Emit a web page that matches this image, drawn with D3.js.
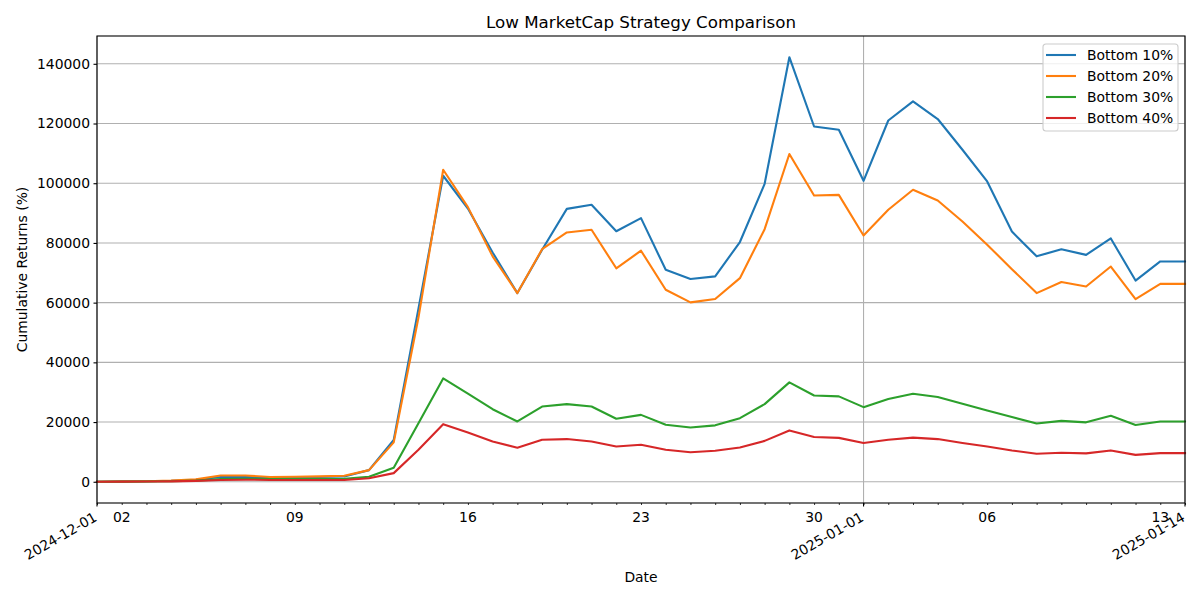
<!DOCTYPE html>
<html>
<head>
<meta charset="utf-8">
<script src="https://cdn.jsdelivr.net/npm/d3@7"></script>
<style>
body { margin: 0; background: #fff; }
text { font-family: "DejaVu Sans", sans-serif; fill: #000; }
</style>
</head>
<body>
<svg id="chart" width="1200" height="600"></svg>
<script>
// daily dates, 2024-12-01 .. 2025-01-14
var dates = ["2024-12-01","2024-12-02","2024-12-03","2024-12-04","2024-12-05","2024-12-06","2024-12-07",
  "2024-12-08","2024-12-09","2024-12-10","2024-12-11","2024-12-12","2024-12-13","2024-12-14","2024-12-15",
  "2024-12-16","2024-12-17","2024-12-18","2024-12-19","2024-12-20","2024-12-21","2024-12-22","2024-12-23",
  "2024-12-24","2024-12-25","2024-12-26","2024-12-27","2024-12-28","2024-12-29","2024-12-30","2024-12-31",
  "2025-01-01","2025-01-02","2025-01-03","2025-01-04","2025-01-05","2025-01-06","2025-01-07","2025-01-08",
  "2025-01-09","2025-01-10","2025-01-11","2025-01-12","2025-01-13","2025-01-14"];

var bottom10 = [0, 100, 200, 350, 700, 1600, 1700, 1400, 1500, 1600, 1800, 3900, 14000, 58000, 102500,
  91500, 76800, 63200, 77700, 91400, 92800, 83900, 88300, 71000, 67900, 68800, 80300, 99800, 142200,
  119000, 117900, 100800, 121000, 127400, 121500, 111200, 100600, 83800, 75500, 77900, 76000, 81500,
  67400, 73800, 73800];
var bottom20 = [0, 100, 200, 400, 800, 2100, 2100, 1600, 1700, 1800, 2000, 3900, 13200, 55000, 104500,
  92000, 75500, 63200, 77900, 83500, 84400, 71500, 77400, 64300, 60100, 61200, 68200, 84600, 109800,
  95900, 96100, 82500, 91100, 97800, 94200, 87200, 79400, 71200, 63200, 66900, 65400, 72100,
  61200, 66300, 66300];
var bottom30 = [0, 50, 100, 200, 400, 900, 1000, 900, 900, 900, 1000, 1700, 4700, 19600, 34600,
  29500, 24300, 20200, 25200, 26000, 25200, 21100, 22400, 19100, 18200, 18900, 21300, 26000, 33300,
  28900, 28600, 25000, 27700, 29500, 28400, 26100, 23900, 21700, 19500, 20400, 19900, 22100,
  19000, 20200, 20200];
var bottom40 = [0, 50, 100, 150, 300, 600, 700, 600, 600, 600, 600, 1200, 2900, 10700, 19300,
  16500, 13500, 11400, 14100, 14300, 13500, 11800, 12400, 10700, 9900, 10400, 11500, 13700, 17200,
  15000, 14700, 13000, 14100, 14800, 14300, 13000, 11800, 10500, 9400, 9700, 9500, 10500,
  9000, 9600, 9600];

var seriesNames = ["Bottom 10%", "Bottom 20%", "Bottom 30%", "Bottom 40%"];
var seriesValues = [bottom10, bottom20, bottom30, bottom40];
var colors = ["#1f77b4", "#ff7f0e", "#2ca02c", "#d62728"];

var yTicks = [0, 20000, 40000, 60000, 80000, 100000, 120000, 140000];
var majorTicks = ["2024-12-01", "2025-01-01", "2025-01-14"];
var labeledMinor = ["2024-12-02","2024-12-09","2024-12-16","2024-12-23","2024-12-30","2025-01-06","2025-01-13"];

var parse = d3.utcParse("%Y-%m-%d");
var dd = dates.map(parse);

var W = 1200, H = 600;
var m = {left: 97, right: 15, top: 36, bottom: 97};
var iw = W - m.left - m.right, ih = H - m.top - m.bottom;

var svg = d3.select("#chart");
svg.append("rect").attr("width", W).attr("height", H).attr("fill", "#fff");

var g = svg.append("g").attr("transform", "translate(" + m.left + "," + m.top + ")");

var x = d3.scaleUtc().domain(d3.extent(dd)).range([0, iw]);
var ymax = d3.max(seriesValues, function(s) { return d3.max(s) });
var pad = ymax * 0.05;
var y = d3.scaleLinear().domain([-pad, ymax + pad]).range([ih, 0]);

// grid
g.append("g").selectAll("line.hgrid")
  .data(yTicks).enter().append("line")
  .attr("x1", 0).attr("x2", iw)
  .attr("y1", function(d) { return y(d) }).attr("y2", function(d) { return y(d) })
  .attr("stroke", "#b0b0b0").attr("stroke-width", 1.1);
g.append("g").selectAll("line.vgrid")
  .data(majorTicks.map(parse)).enter().append("line")
  .attr("x1", function(d) { return x(d) }).attr("x2", function(d) { return x(d) })
  .attr("y1", 0).attr("y2", ih)
  .attr("stroke", "#b0b0b0").attr("stroke-width", 1.1);

// lines
var line = d3.line()
  .x(function(d, i) { return x(dd[i]) })
  .y(function(d) { return y(d) });

seriesValues.forEach(function(s, k) {
  g.append("path").datum(s)
    .attr("d", line)
    .attr("fill", "none")
    .attr("stroke", colors[k])
    .attr("stroke-width", 2.1)
    .attr("stroke-linejoin", "round")
    .attr("stroke-linecap", "square");
});

// y axis
var yAxis = d3.axisLeft(y).tickValues(yTicks).tickFormat(d3.format("d")).tickSize(3.5).tickPadding(3.5);
var ya = g.append("g").call(yAxis);
ya.select(".domain").remove();
ya.selectAll("line").attr("stroke", "#000").attr("stroke-width", 1.1);
ya.selectAll("text").style("font-family", "DejaVu Sans").style("font-size", "13.9px").attr("fill", "#000");

// x axis: minor daily ticks
var xMinor = d3.axisBottom(x).tickValues(dd).tickSize(2).tickFormat("");
var xm = g.append("g").attr("transform", "translate(0," + ih + ")").call(xMinor);
xm.select(".domain").remove();
xm.selectAll("line").attr("stroke", "#000").attr("stroke-width", 0.8);

// labeled minor (weekly)
g.append("g").selectAll("text.minlab")
  .data(labeledMinor.map(parse)).enter().append("text")
  .attr("x", function(d) { return x(d) })
  .attr("y", ih + 19)
  .attr("text-anchor", "middle")
  .style("font-size", "13.9px")
  .text(d3.utcFormat("%d"));

// major ticks
var mt = majorTicks.map(parse);
g.append("g").selectAll("line.major")
  .data(mt).enter().append("line")
  .attr("x1", function(d) { return x(d) }).attr("x2", function(d) { return x(d) })
  .attr("y1", ih).attr("y2", ih + 3.5)
  .attr("stroke", "#000").attr("stroke-width", 1.1);
g.append("g").selectAll("text.majlab")
  .data(mt).enter().append("text")
  .attr("transform", function(d) { return "translate(" + (x(d) + 1) + "," + (ih + 17) + ") rotate(-30)" })
  .attr("text-anchor", "end")
  .style("font-size", "13.9px")
  .text(d3.utcFormat("%Y-%m-%d"));

// frame
g.append("rect").attr("width", iw).attr("height", ih)
  .attr("fill", "none").attr("stroke", "#000").attr("stroke-width", 1.1);

// title and labels
svg.append("text").attr("x", m.left + iw / 2).attr("y", 28)
  .attr("text-anchor", "middle").style("font-size", "16.7px")
  .text("Low MarketCap Strategy Comparison");
svg.append("text").attr("x", m.left + iw / 2).attr("y", 582)
  .attr("text-anchor", "middle").style("font-size", "13.9px")
  .text("Date");
svg.append("text").attr("transform", "translate(27," + (m.top + ih / 2) + ") rotate(-90)")
  .attr("text-anchor", "middle").style("font-size", "13.9px")
  .text("Cumulative Returns (%)");

// legend
var lg = svg.append("g").attr("transform", "translate(1043,44)");
lg.append("rect").attr("width", 135).attr("height", 87).attr("rx", 3)
  .attr("fill", "#fff").attr("fill-opacity", 0.8)
  .attr("stroke", "#cccccc").attr("stroke-width", 1.1);
seriesNames.forEach(function(n, k) {
  var cy = 11 + k * 21;
  lg.append("line").attr("x1", 3).attr("x2", 33).attr("y1", cy).attr("y2", cy)
    .attr("stroke", colors[k]).attr("stroke-width", 2.1);
  lg.append("text").attr("x", 44).attr("y", cy + 5)
    .style("font-size", "13.9px").text(n);
});
</script>
</body>
</html>
